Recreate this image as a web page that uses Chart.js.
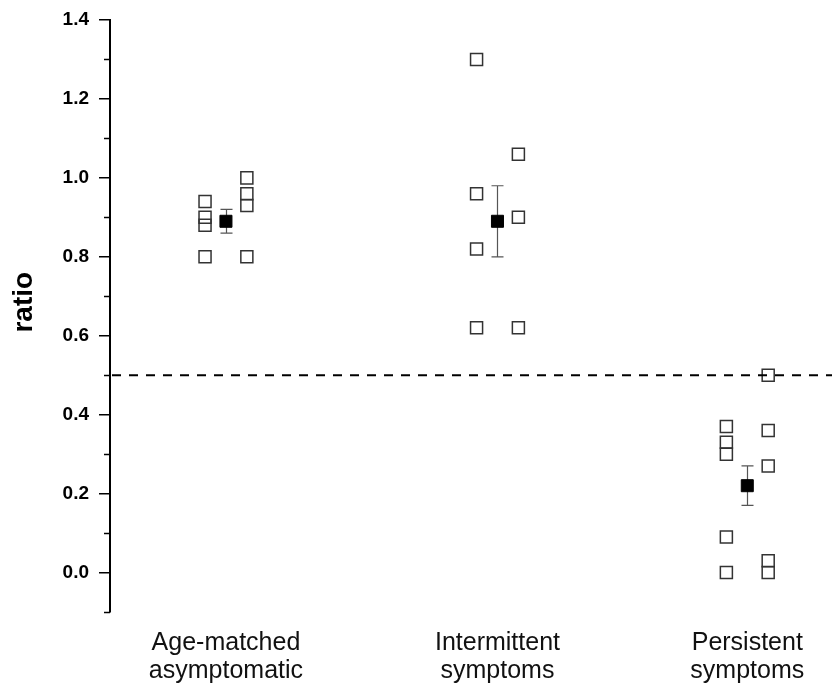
<!DOCTYPE html>
<html>
<head>
<meta charset="utf-8">
<script src="https://cdn.jsdelivr.net/npm/chart.js@4"></script>
<style>
html,body{margin:0;padding:0;background:#fff;}
#wrap{width:832px;height:687px;}
</style>
</head>
<body>
<div id="wrap"><canvas id="c" width="832" height="687"></canvas></div>
<script>
// ---- data ----
const categories = [['Age-matched','asymptomatic'],['Intermittent','symptoms'],['Persistent','symptoms']];
const categoryX = [1, 2, 2.92];
const leftValues = [[0.94,0.90,0.88,0.80],[1.30,0.96,0.82,0.62],[0.37,0.33,0.30,0.09,0.00]];
const rightValues = [[1.00,0.96,0.93,0.80],[1.06,0.90,0.62],[0.50,0.36,0.27,0.03,0.00]];
const means = [0.89, 0.89, 0.22];
const errHigh = [0.92, 0.98, 0.27];
const errLow = [0.86, 0.80, 0.17];
const thresholdValue = 0.5;
const yTickValues = [0.0,0.2,0.4,0.6,0.8,1.0,1.2,1.4];
const yMinorTickValues = [-0.1,0.1,0.3,0.5,0.7,0.9,1.1,1.3];
const yTitle = 'ratio';

// ---- build ----
const colOffset = 0.077;
const openPts = [];
categoryX.forEach((cx, g) => {
  leftValues[g].forEach(v => openPts.push({x: cx - colOffset, y: v}));
  rightValues[g].forEach(v => openPts.push({x: cx + colOffset, y: v}));
});
const meanPts = categoryX.map((cx, g) => ({x: cx, y: means[g]}));
const FONT = 'Liberation Sans, Arial, sans-serif';

const extras = {
  id: 'extras',
  beforeDatasetsDraw(chart) {
    const {ctx, scales:{x, y}} = chart;
    ctx.save();
    ctx.strokeStyle = '#555';
    ctx.lineWidth = 1.2;
    categoryX.forEach((cx, g) => {
      const px = Math.round(x.getPixelForValue(cx)) + 0.5;
      const yh = y.getPixelForValue(errHigh[g]);
      const yl = y.getPixelForValue(errLow[g]);
      ctx.beginPath();
      ctx.moveTo(px, yh); ctx.lineTo(px, yl);
      ctx.moveTo(px - 6, yh); ctx.lineTo(px + 6, yh);
      ctx.moveTo(px - 6, yl); ctx.lineTo(px + 6, yl);
      ctx.stroke();
    });
    ctx.restore();
  },
  afterDraw(chart) {
    const {ctx, chartArea, scales:{x, y}} = chart;
    ctx.save();
    const py = y.getPixelForValue(thresholdValue);
    ctx.strokeStyle = '#000';
    ctx.lineWidth = 2;
    ctx.setLineDash([9, 8]);
    ctx.beginPath();
    ctx.moveTo(chartArea.left + 2, py);
    ctx.lineTo(chartArea.right, py);
    ctx.stroke();
    ctx.setLineDash([]);
    ctx.lineWidth = 1.5;
    yMinorTickValues.forEach(v => {
      const p = Math.round(y.getPixelForValue(v)) + 0.5;
      ctx.beginPath();
      ctx.moveTo(chartArea.left - 6, p);
      ctx.lineTo(chartArea.left, p);
      ctx.stroke();
    });
    // y axis title
    ctx.translate(24, y.getPixelForValue(0.685));
    ctx.rotate(-Math.PI / 2);
    ctx.fillStyle = '#000';
    ctx.font = 'bold 28px ' + FONT;
    ctx.textAlign = 'center';
    ctx.textBaseline = 'middle';
    ctx.fillText(yTitle, 0, 0);
    ctx.restore();
  }
};

new Chart(document.getElementById('c'), {
  type: 'scatter',
  data: {
    datasets: [
      {
        data: openPts,
        pointStyle: 'rect',
        radius: 8.5,
        hoverRadius: 8.5,
        borderColor: '#333',
        borderWidth: 1.5,
        backgroundColor: 'rgba(255,255,255,0)',
        clip: false
      },
      {
        data: meanPts,
        pointStyle: 'rect',
        radius: 8.5,
        hoverRadius: 8.5,
        borderColor: '#000',
        borderWidth: 1,
        backgroundColor: '#000',
        clip: false
      }
    ]
  },
  options: {
    responsive: false,
    animation: false,
    events: [],
    layout: {autoPadding: false, padding: {top: 20, right: 0, left: 0, bottom: 0}},
    plugins: {legend: {display: false}, tooltip: {enabled: false}},
    scales: {
      x: {
        type: 'linear',
        min: 0.573,
        max: 3.232,
        grid: {display: false, drawTicks: false},
        border: {display: false},
        afterBuildTicks(scale) { scale.ticks = categoryX.map(v => ({value: v})); },
        afterFit(scale) { scale.height = 75; scale.paddingLeft = 0; scale.paddingRight = 0; },
        ticks: {
          autoSkip: false,
          maxRotation: 0,
          padding: 17,
          color: '#111',
          font: {family: FONT, size: 25, lineHeight: 1.12},
          callback(value) {
            const i = categoryX.indexOf(value);
            return i >= 0 ? categories[i] : '';
          }
        }
      },
      y: {
        min: -0.1,
        max: 1.4,
        grid: {drawOnChartArea: false, drawTicks: true, tickLength: 11, color: '#000', lineWidth: 1.5},
        border: {display: true, color: '#000', width: 2},
        afterBuildTicks(scale) { scale.ticks = yTickValues.map(v => ({value: v})); },
        afterFit(scale) { scale.width = 110; scale.paddingTop = 0; scale.paddingBottom = 0; },
        ticks: {
          padding: 10,
          color: '#000',
          font: {family: FONT, size: 19, weight: 'bold'},
          callback(v) { return Number(v).toFixed(1); }
        }
      }
    }
  },
  plugins: [extras]
});
</script>
</body>
</html>
